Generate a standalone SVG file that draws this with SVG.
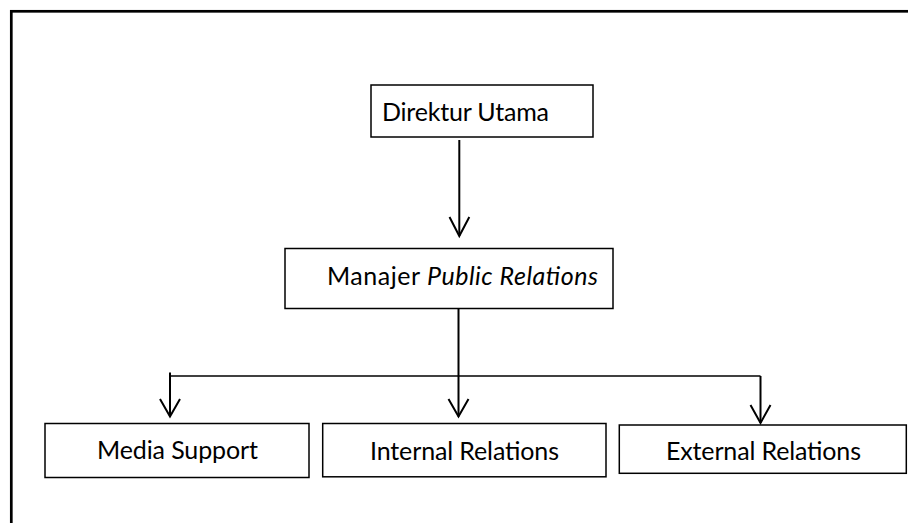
<svg xmlns="http://www.w3.org/2000/svg" width="908" height="523" viewBox="0 0 908 523">
<defs>
<style>
.box{fill:#fff;stroke:#000;stroke-width:1.5}
.lbl{font-family:Lato,"Open Sans","Liberation Sans",sans-serif;font-size:25px;fill:#000}
.con{fill:none;stroke:#000;stroke-width:2}
.hd{fill:none;stroke:#000;stroke-width:2;stroke-linejoin:miter}
</style>
</defs>
<rect x="0" y="0" width="908" height="523" fill="#fff"/>
<rect x="11.3" y="11.3" width="1000" height="1000" fill="none" stroke="#000" stroke-width="2.7"/>
<g id="direktur">
<rect class="box" x="371" y="85" width="222" height="52"/>
<text class="lbl" x="382" y="121" textLength="167">Direktur Utama</text>
</g>
<g id="manajer">
<rect class="box" x="285" y="248.5" width="328" height="60"/>
<text class="lbl" x="327" y="284.5" textLength="271">Manajer <tspan font-style="italic">Public Relations</tspan></text>
</g>
<g id="media">
<rect class="box" x="45" y="423.5" width="264" height="54"/>
<text class="lbl" x="97" y="458.5" textLength="161">Media Support</text>
</g>
<g id="internal">
<rect class="box" x="322.7" y="423.5" width="283.3" height="53.3"/>
<text class="lbl" x="370" y="460" textLength="189">Internal Relations</text>
</g>
<g id="external">
<rect class="box" x="619.3" y="425" width="287" height="48.3"/>
<text class="lbl" x="666" y="459.5" textLength="195">External Relations</text>
</g>
<g id="connectors">
<line class="con" x1="459.3" y1="140" x2="459.3" y2="236"/>
<polyline class="hd" points="449.5,217 459.3,236 469.3,217"/>
<line class="con" x1="458.5" y1="308.5" x2="458.5" y2="416.5"/>
<polyline class="hd" points="448.5,399 458.5,416.5 468.5,399"/>
<line x1="170" y1="376" x2="760.5" y2="376" stroke="#000" stroke-width="1.5"/>
<line class="con" x1="170" y1="372.5" x2="170" y2="416.5"/>
<polyline class="hd" points="160,399 170,416.5 180,399"/>
<line class="con" x1="760.5" y1="376" x2="760.5" y2="423"/>
<polyline class="hd" points="750.5,405 760.5,423 770.5,405"/>
</g>
</svg>
